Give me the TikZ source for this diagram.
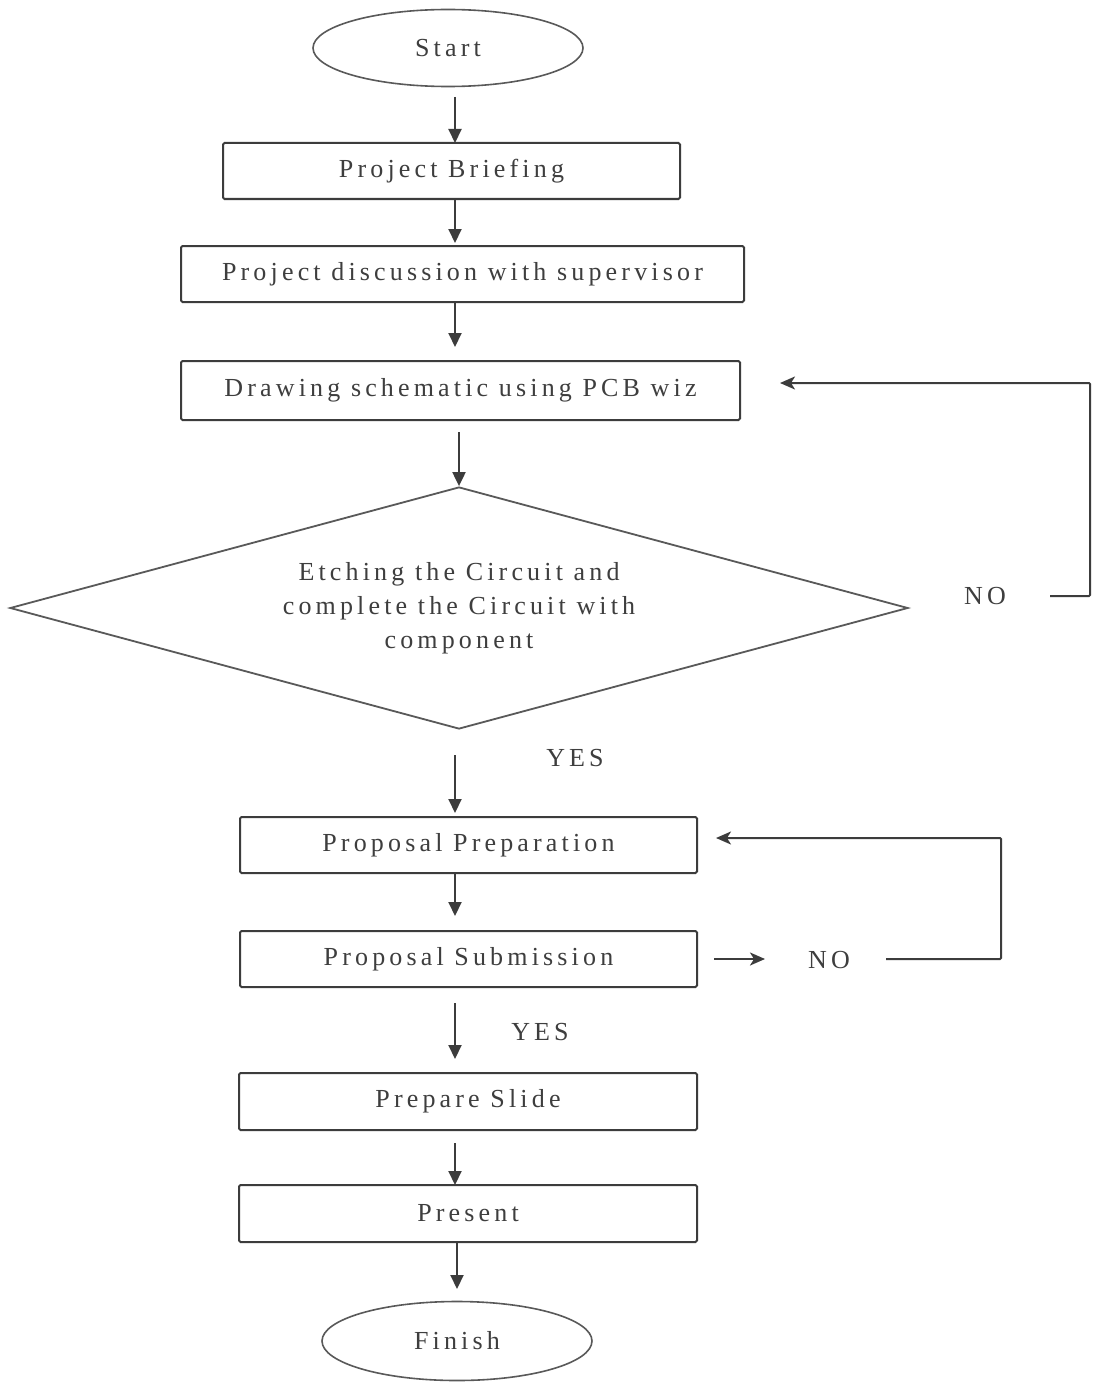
\documentclass[tikz,border=0pt]{standalone}
\usepackage{fontspec}
\setmainfont{Liberation Serif}[LetterSpace=16]
\usetikzlibrary{shapes.geometric,arrows.meta}
\definecolor{ln}{HTML}{3C3C3C}
\definecolor{tx}{HTML}{3E3E3E}
\tikzset{
  every node/.style={text=tx, font=\fontsize{26}{34}\selectfont},
  procbox/.style={draw=ln, line width=2pt, rounded corners=1.5pt, inner sep=0pt},
  termnode/.style={ellipse, draw=ln!85, line width=1.6pt, minimum width=270pt, minimum height=77pt, inner sep=0pt},
  decnode/.style={diamond, draw=ln!85, line width=1.8pt, aspect=3.71, minimum width=898pt, minimum height=242pt, inner sep=0pt, align=center},
  lbl/.style={inner sep=0pt},
  down/.style={draw=ln, line width=2pt, -{Triangle[length=14pt,width=13pt]}},
  back/.style={draw=ln, line width=2pt, -{Stealth[length=15pt,width=13pt,inset=4pt]}}
}
\begin{document}
\begin{tikzpicture}[x=1pt,y=-1pt]
\useasboundingbox (0,0) rectangle (1101,1383);
\fill[white] (0,0) rectangle (1101,1383);

\node[termnode] (start) at (448,48) {Start};
\node[procbox, minimum width=457pt, minimum height=56pt] (brief) at (451.5,171) {Project Briefing};
\node[procbox, minimum width=563pt, minimum height=56pt] (disc) at (462.5,274) {Project discussion with supervisor};
\node[procbox, minimum width=559pt, minimum height=59pt] (schem) at (460.5,390.5) {Drawing schematic using PCB wiz};
\node[decnode] (etch) at (459,608) {Etching the Circuit and\\complete the Circuit with\\component};
\node[procbox, minimum width=457pt, minimum height=56pt] (prop) at (468.5,845) {Proposal Preparation};
\node[procbox, minimum width=457pt, minimum height=56pt] (sub) at (468.5,959) {Proposal Submission};
\node[procbox, minimum width=458pt, minimum height=57pt] (slide) at (468,1101.5) {Prepare Slide};
\node[procbox, minimum width=458pt, minimum height=57pt] (pres) at (468,1213.5) {Present};
\node[termnode, minimum height=79pt] (finish) at (457,1341) {Finish};

\node[lbl] (no1) at (985,596) {NO};
\node[lbl] (yes1) at (575,758) {YES};
\node[lbl] (no2) at (829,960) {NO};
\node[lbl] (yes2) at (540,1032) {YES};

% vertical flow arrows
\coordinate (a1s) at (455,97);   \coordinate (a1e) at (455,143);
\coordinate (a2s) at (455,199);  \coordinate (a2e) at (455,243);
\coordinate (a3s) at (455,302);  \coordinate (a3e) at (455,347);
\coordinate (a4s) at (459,432);
\coordinate (a5s) at (455,755);  \coordinate (a5e) at (455,813);
\coordinate (a6s) at (455,873);  \coordinate (a6e) at (455,916);
\coordinate (a7s) at (455,1003); \coordinate (a7e) at (455,1059);
\coordinate (a8s) at (455,1143); \coordinate (a8e) at (455,1185);
\coordinate (a9s) at (457,1242); \coordinate (a9e) at (457,1289);

\draw[down] (a1s) -- (a1e);
\draw[down] (a2s) -- (a2e);
\draw[down] (a3s) -- (a3e);
\draw[down] (a4s) -- (etch.north);
\draw[down] (a5s) -- (a5e);
\draw[down] (a6s) -- (a6e);
\draw[down] (a7s) -- (a7e);
\draw[down] (a8s) -- (a8e);
\draw[down] (a9s) -- (a9e);

% loop 1
\coordinate (l1a) at (1050,596);
\coordinate (l1c) at (1090,383);
\coordinate (l1t) at (780,383);
\draw[back, rounded corners=1pt] (l1a) -| (l1c) -- (l1t);

% loop 2
\coordinate (s2a) at (714,959);
\coordinate (s2b) at (765,959);
\draw[back] (s2a) -- (s2b);
\coordinate (l2a) at (886,959);
\coordinate (l2c) at (1001,838);
\coordinate (l2t) at (716,838);
\draw[back, rounded corners=1pt] (l2a) -| (l2c) -- (l2t);
\end{tikzpicture}
\end{document}
